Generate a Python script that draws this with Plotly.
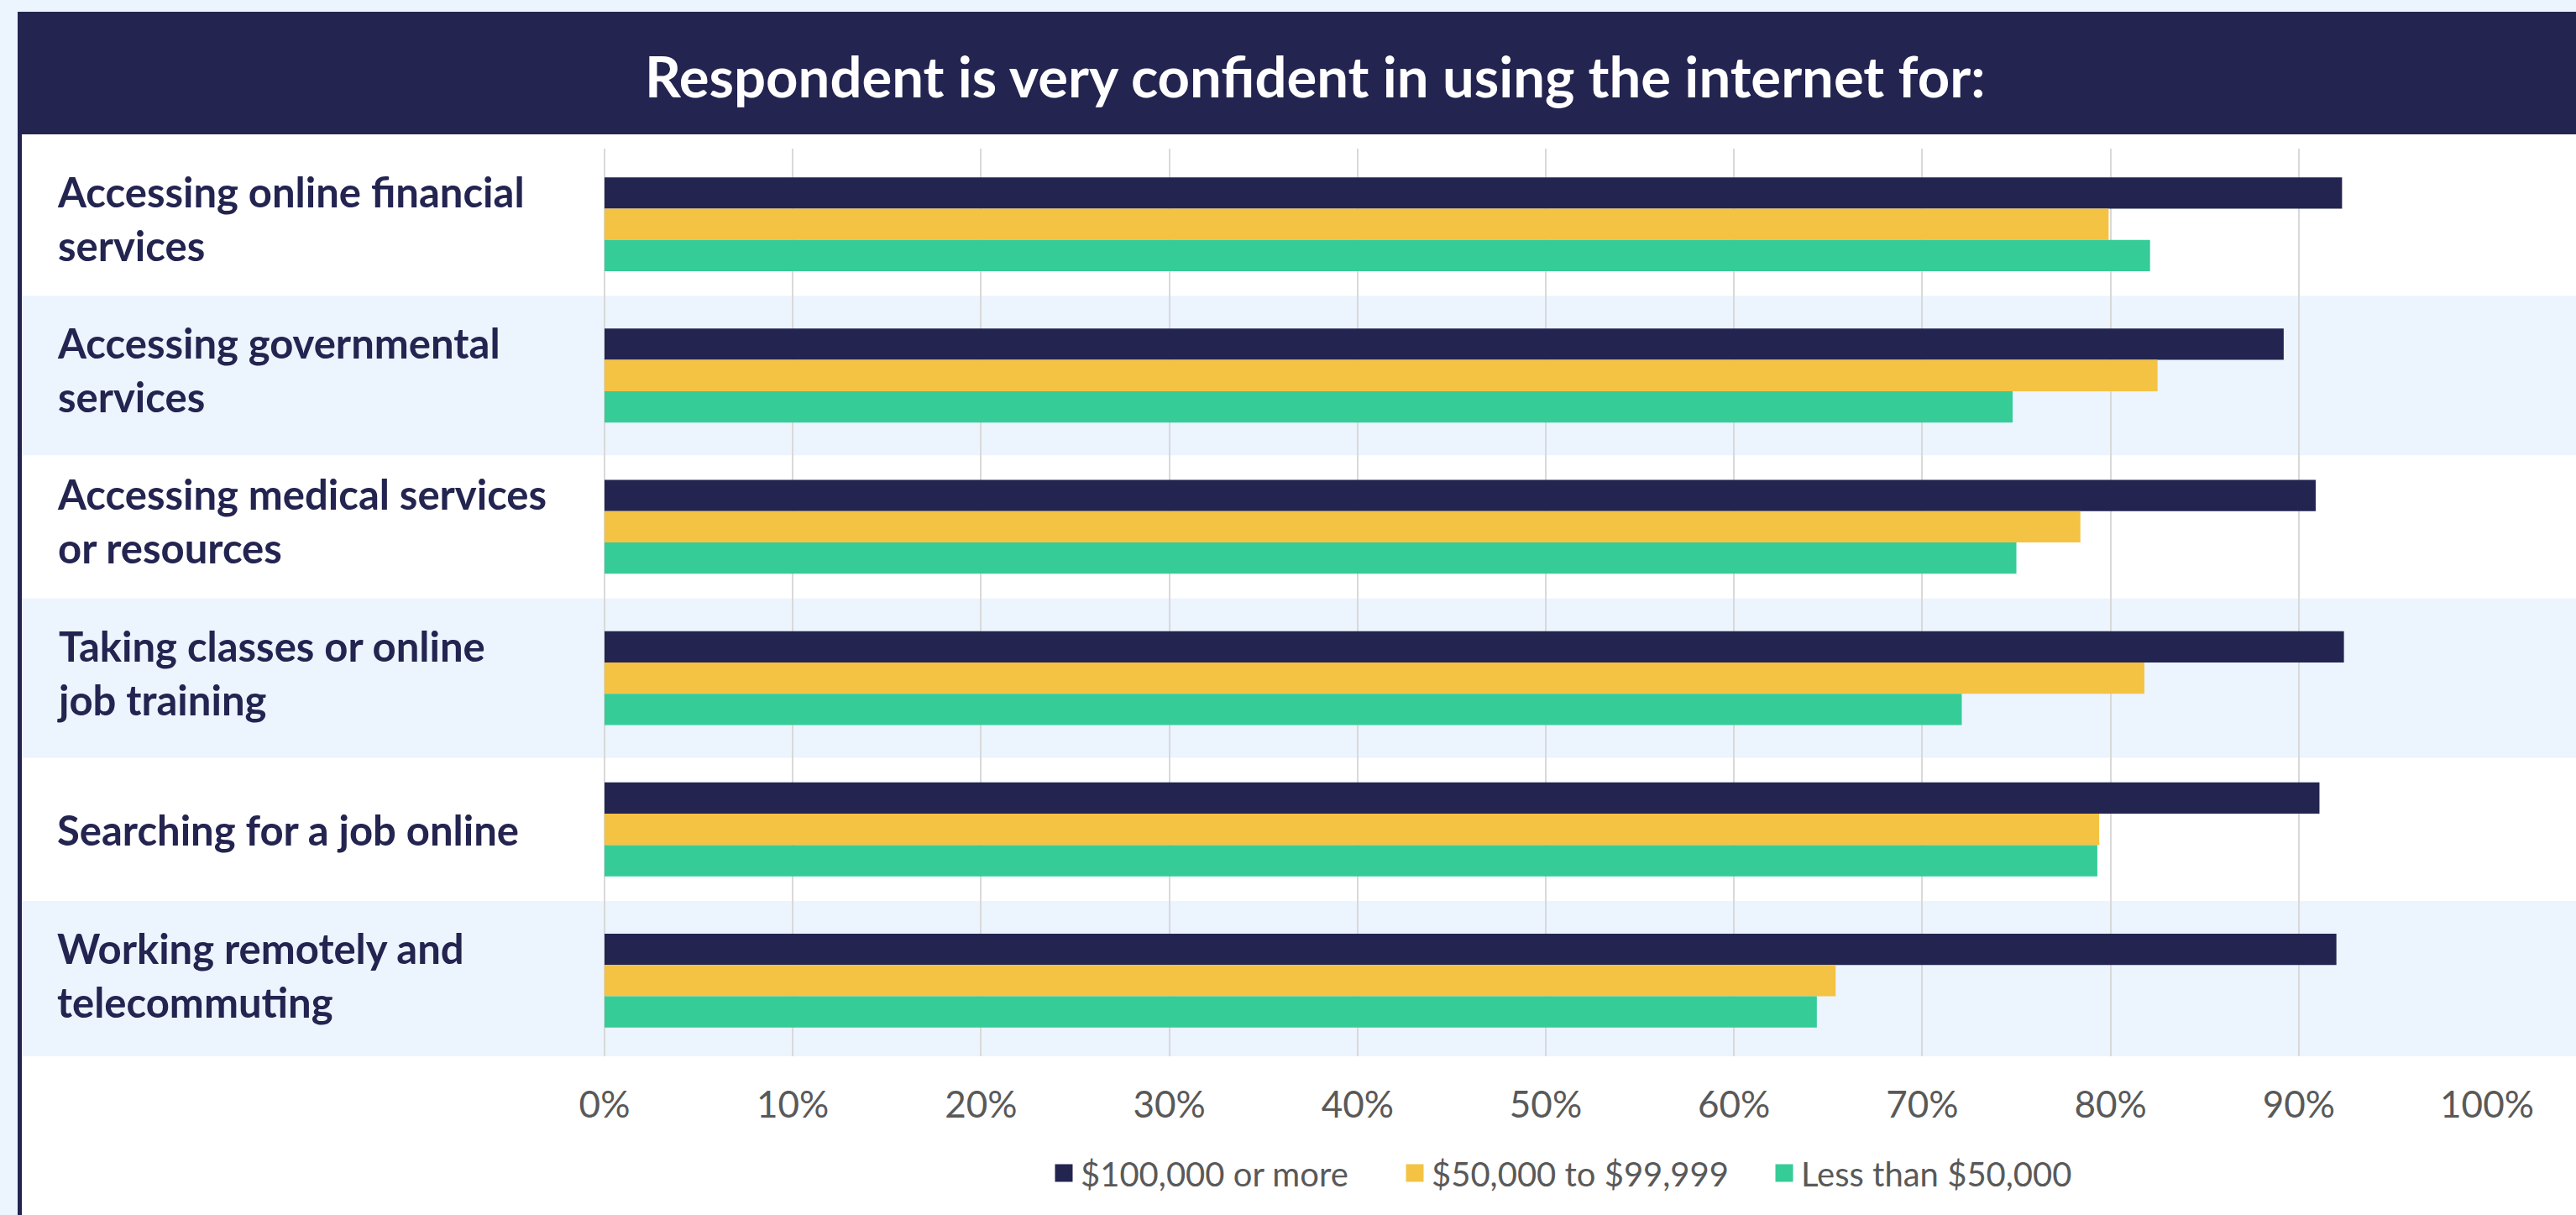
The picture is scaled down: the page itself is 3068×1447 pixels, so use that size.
import plotly.graph_objects as go

# ---------------- data ----------------
categories = [
    "Accessing online financial services",
    "Accessing governmental services",
    "Accessing medical services or resources",
    "Taking classes or online job training",
    "Searching for a job online",
    "Working remotely and telecommuting",
]
category_labels = [
    "Accessing online financial<br>services",
    "Accessing governmental<br>services",
    "Accessing medical services<br>or resources",
    "Taking classes or online<br>job training",
    "Searching for a job online",
    "Working remotely and<br>telecommuting",
]
series_names = ["$100,000 or more", "$50,000 to $99,999", "Less than $50,000"]
high_income = [92.3, 89.2, 90.9, 92.4, 91.1, 92.0]
mid_income = [79.9, 82.5, 78.4, 81.8, 79.4, 65.4]
low_income = [82.1, 74.8, 75.0, 72.1, 79.3, 64.4]
tick_values = [0, 10, 20, 30, 40, 50, 60, 70, 80, 90, 100]
tick_labels = ["0%", "10%", "20%", "30%", "40%", "50%", "60%", "70%", "80%", "90%", "100%"]
title_text = "Respondent is very confident in using the internet for:"

# ---------------- style ----------------
NAVY = "#232450"
YELLOW = "#F4C344"
GREEN = "#35CC98"
BAND = "#ECF4FE"
GRID = "#D9D9D9"
TICK = "#595959"
FONT = "Lato"
colors = [NAVY, YELLOW, GREEN]
series_values = [high_income, mid_income, low_income]
legend_left_px = [1247, 1665, 2105]

W, H = 3068, 1447
L, R, T, B = 720, 106, 177, 189
PW = W - L - R
PH = H - T - B


def px_x(p):
    return (p - L) / PW


def px_y(p):
    return (H - B - p) / PH


fig = go.Figure()

for name, vals, c in zip(series_names, series_values, colors):
    fig.add_trace(go.Bar(
        x=vals, y=categories, orientation="h", name=name,
        marker=dict(color=c, line=dict(width=0)),
        showlegend=False, hoverinfo="x+y+name",
    ))

# legend entries (one legend each so spacing can follow the reference)
legend_ids = ["legend", "legend2", "legend3"]
for name, c, lid in zip(series_names, colors, legend_ids):
    fig.add_trace(go.Scatter(
        x=[None], y=[None], mode="markers", name=name, legend=lid,
        marker=dict(symbol="square", size=16, color=c, line=dict(color=c, width=5)),
        showlegend=True,
    ))

shapes = []
shapes.append(dict(type="rect", xref="paper", yref="paper",
                   x0=px_x(26), x1=px_x(W), y0=px_y(H), y1=px_y(160),
                   fillcolor="white", line=dict(width=0), layer="below"))
for i in range(len(categories)):
    if i % 2 == 1:
        shapes.append(dict(type="rect", xref="paper", yref="y",
                           x0=px_x(26), x1=px_x(W), y0=i - 0.527, y1=i + 0.527,
                           fillcolor=BAND, line=dict(width=0), layer="below"))
shapes.append(dict(type="rect", xref="paper", yref="paper",
                   x0=px_x(21), x1=px_x(W), y0=px_y(160), y1=px_y(14),
                   fillcolor=NAVY, line=dict(width=0), layer="below"))
shapes.append(dict(type="rect", xref="paper", yref="paper",
                   x0=px_x(21), x1=px_x(26), y0=px_y(H), y1=px_y(160),
                   fillcolor=NAVY, line=dict(width=0), layer="below"))

annotations = [dict(
    text=title_text, xref="paper", yref="paper", x=px_x(1566), y=px_y(90),
    xanchor="center", yanchor="middle", showarrow=False,
    font=dict(family=FONT, size=67, color="white", weight=700),
)]
for cat, lab in zip(categories, category_labels):
    annotations.append(dict(
        text=lab, xref="paper", yref="y", x=px_x(66), y=cat,
        xanchor="left", yanchor="middle", align="left", showarrow=False,
        yshift=7 if "<br>" in lab else 0,
        font=dict(family=FONT, size=49, color=NAVY, weight=700),
    ))

legend_common = dict(
    orientation="h", xanchor="left", y=px_y(1397), yanchor="middle",
    font=dict(family=FONT, size=40, color=TICK),
    bgcolor="rgba(0,0,0,0)", itemclick=False, itemdoubleclick=False,
)

fig.update_layout(
    width=W, height=H,
    margin=dict(l=L, r=R, t=T, b=B, pad=0),
    paper_bgcolor=BAND,
    plot_bgcolor="rgba(0,0,0,0)",
    barmode="group", bargap=0.379, bargroupgap=0,
    shapes=shapes, annotations=annotations,
    font=dict(family=FONT, color=TICK),
    xaxis=dict(
        range=[0, 100], tickvals=tick_values, ticktext=tick_labels,
        showgrid=True, gridcolor=GRID, gridwidth=2,
        zeroline=True, zerolinecolor=GRID, zerolinewidth=2,
        showline=False, ticks="", ticklabelstandoff=28,
        tickfont=dict(family=FONT, size=44, color=TICK),
        fixedrange=True,
    ),
    yaxis=dict(
        categoryorder="array", categoryarray=categories,
        range=[len(categories) - 0.5, -0.5],
        showticklabels=False, showgrid=False, zeroline=False, showline=False,
        ticks="", fixedrange=True,
    ),
    legend=dict(x=px_x(legend_left_px[0]), **legend_common),
    legend2=dict(x=px_x(legend_left_px[1]), **legend_common),
    legend3=dict(x=px_x(legend_left_px[2]), **legend_common),
)

fig.write_html("out.html", config={"displayModeBar": False},
               post_script="document.body.style.margin='0px';")
